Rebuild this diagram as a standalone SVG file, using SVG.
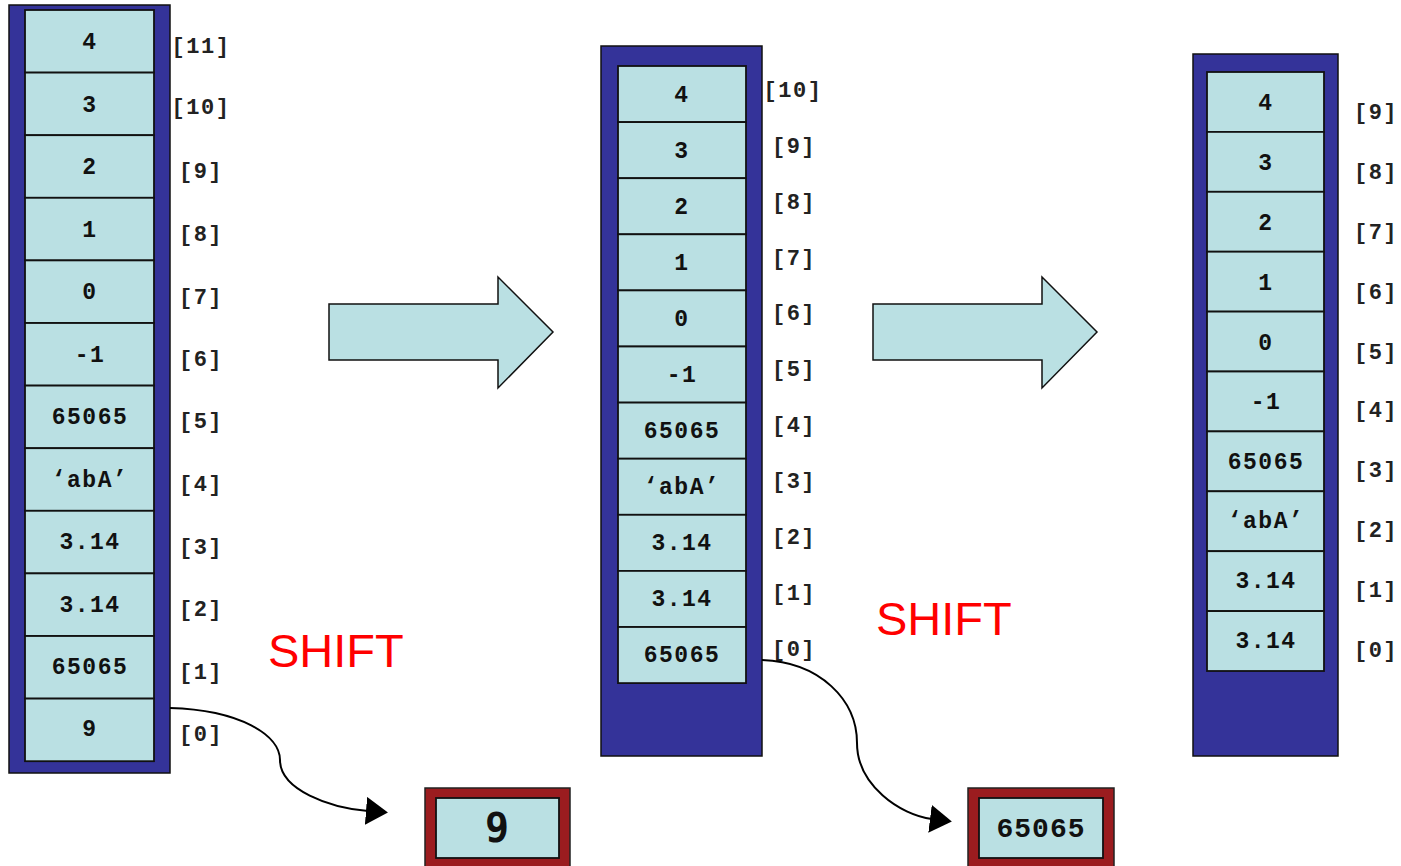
<svg xmlns="http://www.w3.org/2000/svg" width="1401" height="866" viewBox="0 0 1401 866">
  <style>
    .frame { fill: #343399; stroke: #111; stroke-width: 1.5; }
    .cell { fill: #BAE0E3; stroke: #111; stroke-width: 1.8; }
    .val { font-family: "Liberation Mono", "Courier New", monospace; font-weight: bold; font-size: 23px; fill: #111; text-anchor: middle; letter-spacing: 1.5px; }
    .idx { font-family: "Liberation Mono", "Courier New", monospace; font-weight: bold; font-size: 22px; fill: #222; text-anchor: middle; letter-spacing: 1.5px; }
    .shift { font-family: "Liberation Sans", Arial, sans-serif; font-size: 47px; fill: #FF0000; }
    .bigarrow { fill: #BAE0E3; stroke: #111; stroke-width: 1.5; }
    .out { fill: #9B1C1F; stroke: #222; stroke-width: 1.5; }
    .link { fill: none; stroke: #000; stroke-width: 2; }
  </style>
  <defs>
    <marker id="head" viewBox="0 0 22 28" refX="2" refY="14" markerWidth="22" markerHeight="28" markerUnits="userSpaceOnUse" orient="auto">
      <path d="M0,0 L22,14 L0,28 Z" fill="#000"/>
    </marker>
  </defs>

  <!-- stack before the first shift: indices 11..0 -->
  <g id="stack1">
    <rect class="frame" x="9" y="5" width="161" height="768"/>
    <rect class="cell" x="25" y="10" width="129" height="62.6"/>
    <rect class="cell" x="25" y="72.6" width="129" height="62.6"/>
    <rect class="cell" x="25" y="135.2" width="129" height="62.6"/>
    <rect class="cell" x="25" y="197.8" width="129" height="62.6"/>
    <rect class="cell" x="25" y="260.4" width="129" height="62.6"/>
    <rect class="cell" x="25" y="323" width="129" height="62.6"/>
    <rect class="cell" x="25" y="385.6" width="129" height="62.6"/>
    <rect class="cell" x="25" y="448.2" width="129" height="62.6"/>
    <rect class="cell" x="25" y="510.8" width="129" height="62.6"/>
    <rect class="cell" x="25" y="573.4" width="129" height="62.6"/>
    <rect class="cell" x="25" y="636" width="129" height="62.6"/>
    <rect class="cell" x="25" y="698.6" width="129" height="62.6"/>
    <text class="val" x="90" y="49">4</text>
    <text class="val" x="90" y="112">3</text>
    <text class="val" x="90" y="174">2</text>
    <text class="val" x="90" y="237">1</text>
    <text class="val" x="90" y="299">0</text>
    <text class="val" x="90" y="362">-1</text>
    <text class="val" x="90" y="424">65065</text>
    <text class="val" x="90" y="487">‘abA’</text>
    <text class="val" x="90" y="549">3.14</text>
    <text class="val" x="90" y="612">3.14</text>
    <text class="val" x="90" y="674">65065</text>
    <text class="val" x="90" y="736">9</text>
    <text class="idx" x="201" y="53">[11]</text>
    <text class="idx" x="201" y="114">[10]</text>
    <text class="idx" x="201" y="178">[9]</text>
    <text class="idx" x="201" y="241">[8]</text>
    <text class="idx" x="201" y="304">[7]</text>
    <text class="idx" x="201" y="366">[6]</text>
    <text class="idx" x="201" y="428">[5]</text>
    <text class="idx" x="201" y="491">[4]</text>
    <text class="idx" x="201" y="554">[3]</text>
    <text class="idx" x="201" y="616">[2]</text>
    <text class="idx" x="201" y="679">[1]</text>
    <text class="idx" x="201" y="741">[0]</text>
  </g>

  <!-- stack after the first shift: indices 10..0 -->
  <g id="stack2">
    <rect class="frame" x="601" y="46" width="161" height="710"/>
    <rect class="cell" x="618" y="66" width="128" height="56.1"/>
    <rect class="cell" x="618" y="122.1" width="128" height="56.1"/>
    <rect class="cell" x="618" y="178.2" width="128" height="56.1"/>
    <rect class="cell" x="618" y="234.3" width="128" height="56.1"/>
    <rect class="cell" x="618" y="290.4" width="128" height="56.1"/>
    <rect class="cell" x="618" y="346.5" width="128" height="56.1"/>
    <rect class="cell" x="618" y="402.6" width="128" height="56.1"/>
    <rect class="cell" x="618" y="458.7" width="128" height="56.1"/>
    <rect class="cell" x="618" y="514.8" width="128" height="56.1"/>
    <rect class="cell" x="618" y="570.9" width="128" height="56.1"/>
    <rect class="cell" x="618" y="627" width="128" height="56.1"/>
    <text class="val" x="682" y="102">4</text>
    <text class="val" x="682" y="158">3</text>
    <text class="val" x="682" y="214">2</text>
    <text class="val" x="682" y="270">1</text>
    <text class="val" x="682" y="326">0</text>
    <text class="val" x="682" y="382">-1</text>
    <text class="val" x="682" y="438">65065</text>
    <text class="val" x="682" y="494">‘abA’</text>
    <text class="val" x="682" y="550">3.14</text>
    <text class="val" x="682" y="606">3.14</text>
    <text class="val" x="682" y="662">65065</text>
    <text class="idx" x="793" y="97">[10]</text>
    <text class="idx" x="794" y="153">[9]</text>
    <text class="idx" x="794" y="209">[8]</text>
    <text class="idx" x="794" y="265">[7]</text>
    <text class="idx" x="794" y="320">[6]</text>
    <text class="idx" x="794" y="376">[5]</text>
    <text class="idx" x="794" y="432">[4]</text>
    <text class="idx" x="794" y="488">[3]</text>
    <text class="idx" x="794" y="544">[2]</text>
    <text class="idx" x="794" y="600">[1]</text>
    <text class="idx" x="794" y="656">[0]</text>
  </g>

  <!-- stack after the second shift: indices 9..0 -->
  <g id="stack3">
    <rect class="frame" x="1193" y="54" width="145" height="702"/>
    <rect class="cell" x="1207" y="72" width="117" height="59.9"/>
    <rect class="cell" x="1207" y="131.9" width="117" height="59.9"/>
    <rect class="cell" x="1207" y="191.8" width="117" height="59.9"/>
    <rect class="cell" x="1207" y="251.7" width="117" height="59.9"/>
    <rect class="cell" x="1207" y="311.6" width="117" height="59.9"/>
    <rect class="cell" x="1207" y="371.5" width="117" height="59.9"/>
    <rect class="cell" x="1207" y="431.4" width="117" height="59.9"/>
    <rect class="cell" x="1207" y="491.3" width="117" height="59.9"/>
    <rect class="cell" x="1207" y="551.2" width="117" height="59.9"/>
    <rect class="cell" x="1207" y="611.1" width="117" height="59.9"/>
    <text class="val" x="1266" y="110">4</text>
    <text class="val" x="1266" y="170">3</text>
    <text class="val" x="1266" y="230">2</text>
    <text class="val" x="1266" y="290">1</text>
    <text class="val" x="1266" y="350">0</text>
    <text class="val" x="1266" y="409">-1</text>
    <text class="val" x="1266" y="469">65065</text>
    <text class="val" x="1266" y="528">‘abA’</text>
    <text class="val" x="1266" y="588">3.14</text>
    <text class="val" x="1266" y="648">3.14</text>
    <text class="idx" x="1376" y="119">[9]</text>
    <text class="idx" x="1376" y="179">[8]</text>
    <text class="idx" x="1376" y="239">[7]</text>
    <text class="idx" x="1376" y="299">[6]</text>
    <text class="idx" x="1376" y="359">[5]</text>
    <text class="idx" x="1376" y="417">[4]</text>
    <text class="idx" x="1376" y="477">[3]</text>
    <text class="idx" x="1376" y="537">[2]</text>
    <text class="idx" x="1376" y="597">[1]</text>
    <text class="idx" x="1376" y="657">[0]</text>
  </g>

  <!-- step arrows -->
  <g id="step1">
    <path class="bigarrow" d="M329,304 L498,304 L498,277 L553,332 L498,388 L498,360 L329,360 Z"/>
  </g>
  <g id="step2">
    <path class="bigarrow" d="M873,304 L1042,304 L1042,277 L1097,332 L1042,388 L1042,360 L873,360 Z"/>
  </g>

  <g id="labels">
    <text class="shift" x="268" y="667">SHIFT</text>
    <text class="shift" x="876" y="635">SHIFT</text>
  </g>

  <!-- popped values -->
  <g id="popped1">
    <rect class="out" x="425" y="788" width="145" height="90"/>
    <rect class="cell" x="436" y="798" width="123" height="60"/>
    <text x="497" y="842" font-family="'DejaVu Sans Mono', monospace" font-weight="bold" font-size="40" text-anchor="middle" fill="#111">9</text>
  </g>
  <g id="popped2">
    <rect class="out" x="968" y="788" width="146" height="90"/>
    <rect class="cell" x="979" y="798" width="124" height="60"/>
    <text x="1041" y="837" font-family="'Liberation Mono', monospace" font-weight="bold" font-size="28" text-anchor="middle" fill="#111" letter-spacing="1">65065</text>
  </g>

  <g id="connectors">
    <path class="link" d="M170,708 C240,710 280,735 280,760 C280,790 330,808 368,811" marker-end="url(#head)"/>
    <path class="link" d="M762,660 C820,662 857,700 857,743 C857,785 900,815 932,819" marker-end="url(#head)"/>
  </g>
</svg>
